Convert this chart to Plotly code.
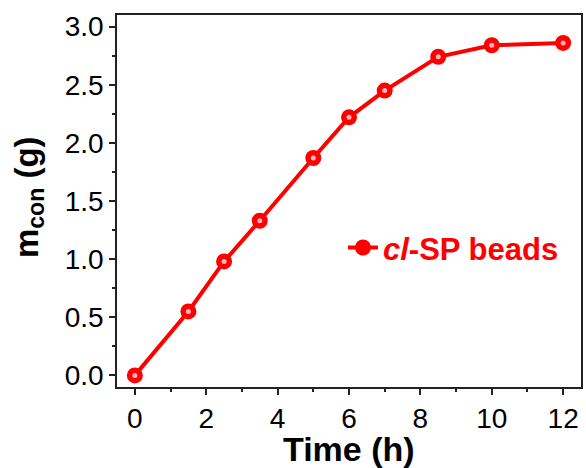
import plotly.graph_objects as go

time_h = [0, 1.5, 2.5, 3.5, 5, 6, 7, 8.5, 10, 12]
m_con = [0.0, 0.55, 0.98, 1.33, 1.87, 2.22, 2.45, 2.74, 2.84, 2.86]
series_name = "<b><i>cl</i>-SP beads</b>"
x_ticks = [0, 2, 4, 6, 8, 10, 12]
y_ticks = [0.0, 0.5, 1.0, 1.5, 2.0, 2.5, 3.0]
x_title = "<b>Time (h)</b>"
y_title = "<b>m<sub>con</sub> (g)</b>"

FONT = "Liberation Sans, Arial, sans-serif"

fig = go.Figure()
fig.add_trace(go.Scatter(
    x=time_h, y=m_con, mode="lines+markers", name=series_name,
    line=dict(color="#ff0000", width=4),
    marker=dict(size=16, color="#ff0000", line=dict(width=0)),
))
# specular highlight on the spheres
fig.add_trace(go.Scatter(
    x=time_h, y=m_con, mode="markers", showlegend=False, hoverinfo="skip",
    marker=dict(size=5, color="#ffb3bf", line=dict(width=0)),
))

axis_common = dict(
    showline=True, linecolor="#222222", linewidth=1.5, mirror=True,
    ticks="outside", ticklen=6, tickwidth=1.5, tickcolor="#222222",
    showgrid=False, zeroline=False, automargin=False,
    tickfont=dict(family=FONT, size=28, color="black"),
)

fig.update_xaxes(
    range=[-0.5, 12.5], tickvals=x_ticks, ticktext=[str(v) for v in x_ticks],
    minor=dict(dtick=1, tick0=0, ticks="outside", ticklen=3, tickwidth=1.5, tickcolor="#222222"),
    **axis_common,
)
fig.update_yaxes(
    range=[-0.1, 3.1], tickvals=y_ticks, ticktext=[f"{v:.1f}" for v in y_ticks],
    minor=dict(dtick=0.25, tick0=0, ticks="outside", ticklen=3, tickwidth=1.5, tickcolor="#222222"),
    **axis_common,
)

fig.add_annotation(text=x_title, xref="paper", yref="paper", x=0.5, y=-0.168,
                   xanchor="center", yanchor="middle", showarrow=False,
                   font=dict(family=FONT, size=34, color="black"))
fig.add_annotation(text=y_title, xref="paper", yref="paper", x=-0.19, y=0.51,
                   xanchor="center", yanchor="middle", showarrow=False, textangle=-90,
                   font=dict(family=FONT, size=33, color="black"))

fig.update_layout(
    width=586, height=468,
    margin=dict(l=117, r=5, t=15, b=81),
    plot_bgcolor="white", paper_bgcolor="white",
    showlegend=True,
    legend=dict(x=0.487, y=0.374, xanchor="left", yanchor="middle",
                bgcolor="rgba(0,0,0,0)",
                font=dict(family=FONT, size=31, color="#ff0000")),
)

fig.write_html("out.html")
